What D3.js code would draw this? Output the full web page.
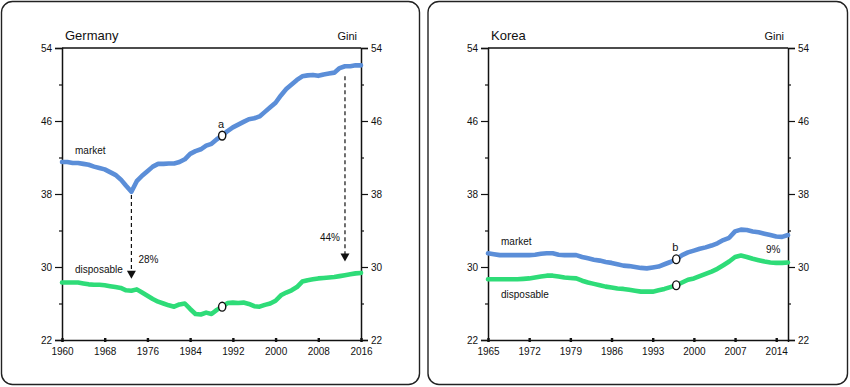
<!DOCTYPE html>
<html>
<head>
<meta charset="utf-8">
<script src="https://cdn.jsdelivr.net/npm/d3@7"></script>
<style>
html,body{margin:0;padding:0;background:#fff;}
svg{display:block;}
text{font-family:"Liberation Sans Narrow","Arial Narrow","Liberation Sans",Arial,sans-serif;fill:#111;}
</style>
</head>
<body>
<svg id="chart" width="850" height="387"></svg>
<script>
// ---------- DATA ----------
const yTicks = [22, 30, 38, 46, 54];
const yMinorTicks = [26, 34, 42, 50];

const deYears = d3.range(1960, 2017);
const deTicks = [1960, 1968, 1976, 1984, 1992, 2000, 2008, 2016];
const deMarket = [41.5,41.5,41.4,41.4,41.3,41.2,41.0,40.85,40.7,40.4,
  40.1,39.6,38.9,38.25,39.4,40.0,40.5,41.0,41.3,41.3,
  41.35,41.35,41.5,41.8,42.4,42.7,42.9,43.3,43.5,44.0,
  44.4,44.9,45.3,45.6,45.9,46.2,46.3,46.5,47.0,47.5,
  48.0,48.8,49.5,50.0,50.5,50.9,51.0,51.05,50.95,51.1,
  51.2,51.3,51.8,52.0,52.0,52.1,52.1];
const deDisposable = [28.3,28.3,28.3,28.3,28.2,28.1,28.05,28.05,28.0,27.9,
  27.8,27.7,27.45,27.4,27.55,27.2,26.85,26.5,26.2,26.0,
  25.8,25.65,25.9,26.0,25.4,24.85,24.8,25.0,24.85,25.3,
  25.65,26.05,26.1,26.05,26.1,25.95,25.7,25.65,25.85,26.0,
  26.3,26.9,27.2,27.45,27.8,28.4,28.55,28.65,28.75,28.8,
  28.85,28.9,29.0,29.1,29.2,29.3,29.35];

const krYears = d3.range(1965, 2017);
const krTicks = [1965, 1972, 1979, 1986, 1993, 2000, 2007, 2014];
const krMarket = [31.5,31.4,31.3,31.3,31.3,31.3,31.3,31.3,31.35,31.45,
  31.5,31.5,31.35,31.3,31.3,31.3,31.1,30.95,30.8,30.7,
  30.55,30.45,30.3,30.15,30.1,30.0,29.9,29.85,29.95,30.05,
  30.3,30.55,30.85,31.3,31.6,31.8,32.0,32.15,32.35,32.6,
  32.95,33.2,33.9,34.1,34.05,33.9,33.8,33.65,33.5,33.35,
  33.3,33.5];
const krDisposable = [28.65,28.65,28.65,28.65,28.65,28.65,28.7,28.75,28.85,28.95,
  29.05,29.05,28.95,28.85,28.8,28.75,28.5,28.3,28.15,28.0,
  27.85,27.75,27.65,27.6,27.5,27.4,27.3,27.3,27.3,27.45,
  27.6,27.8,28.0,28.3,28.6,28.75,29.0,29.25,29.5,29.8,
  30.2,30.6,31.1,31.25,31.1,30.9,30.75,30.6,30.5,30.45,
  30.45,30.5];

// annotations (data units)
const deMarker = {year: 1990, label: "a"};
const krMarker = {year: 1997, label: "b"};
const deArrows = [
  {year: 1973, from: 37.9, to: 28.7, label: "28%", side: "right", labelValue: 30.45},
  {year: 2013, from: 50.9, to: 30.6, label: "44%", side: "left", labelValue: 32.9}
];
const krNotes = [{year: 2013.5, value: 31.5, label: "9%"}];

// ---------- DRAW ----------
const svg = d3.select("#chart");
const blue = "#5B8ED8";
const green = "#2EDC78";

function panel(cfg) {
  const g = svg.append("g");
  g.append("rect")
    .attr("x", cfg.box[0]).attr("y", cfg.box[1])
    .attr("width", cfg.box[2]).attr("height", cfg.box[3])
    .attr("rx", 11).attr("ry", 11)
    .attr("fill", "none").attr("stroke", "#222").attr("stroke-width", 1.4);

  const x = d3.scaleLinear().domain(cfg.xDomain).range([cfg.left, cfg.right]);
  const y = d3.scaleLinear().domain([22, 54]).range([340, 48]);

  // top border line
  g.append("line").attr("x1", cfg.left).attr("x2", cfg.right)
    .attr("y1", y(54)).attr("y2", y(54))
    .attr("stroke", "#111").attr("stroke-width", 1.5);

  // left axis
  const la = g.append("g").attr("transform", `translate(${cfg.left},0)`)
    .call(d3.axisLeft(y).tickValues(yTicks).tickSize(7).tickPadding(3).tickFormat(d3.format("d")));
  const ra = g.append("g").attr("transform", `translate(${cfg.right},0)`)
    .call(d3.axisRight(y).tickValues(yTicks).tickSize(7).tickPadding(3).tickFormat(d3.format("d")));
  [la, ra].forEach(a => {
    a.select(".domain").attr("stroke", "#111").attr("stroke-width", 1.5);
    a.selectAll(".tick line").attr("stroke", "#111").attr("stroke-width", 1.2);
    a.selectAll(".tick text").style("font-size", "10px").attr("fill", "#111");
  });
  g.append("g").attr("transform", `translate(${cfg.left},0)`)
    .call(d3.axisLeft(y).tickValues(yMinorTicks).tickSize(3).tickFormat(""))
    .call(s => { s.select(".domain").remove(); s.selectAll("line").attr("stroke", "#111").attr("stroke-width", 1.2); });
  g.append("g").attr("transform", `translate(${cfg.right},0)`)
    .call(d3.axisRight(y).tickValues(yMinorTicks).tickSize(3).tickFormat(""))
    .call(s => { s.select(".domain").remove(); s.selectAll("line").attr("stroke", "#111").attr("stroke-width", 1.2); });

  // bottom axis
  const ba = g.append("g").attr("transform", `translate(0,${y(22)})`)
    .call(d3.axisBottom(x).tickValues(cfg.xTicks).tickSize(2).tickPadding(6).tickFormat(d3.format("d")));
  ba.select(".domain").attr("stroke", "#111").attr("stroke-width", 1.5);
  ba.selectAll(".tick line").attr("y1", -2).attr("y2", 2).attr("stroke", "#111").attr("stroke-width", 2.4);
  ba.selectAll(".tick text").style("font-size", "10px").attr("fill", "#111");

  // lines
  const line = d3.line().x(d => x(d[0])).y(d => y(d[1])).curve(d3.curveLinear);
  const mk = cfg.years.map((yr, i) => [yr, cfg.market[i]]);
  const dp = cfg.years.map((yr, i) => [yr, cfg.disposable[i]]);
  g.append("path").attr("d", line(mk)).attr("fill", "none").attr("stroke", blue)
    .attr("stroke-width", 4.6).attr("stroke-linejoin", "round").attr("stroke-linecap", "round");
  g.append("path").attr("d", line(dp)).attr("fill", "none").attr("stroke", green)
    .attr("stroke-width", 4.6).attr("stroke-linejoin", "round").attr("stroke-linecap", "round");

  // markers
  const mi = cfg.years.indexOf(cfg.marker.year);
  [cfg.market[mi], cfg.disposable[mi]].forEach(v => {
    g.append("ellipse").attr("cx", x(cfg.marker.year)).attr("cy", y(v))
      .attr("rx", 3.6).attr("ry", 4.4)
      .attr("fill", "#fff").attr("stroke", "#111").attr("stroke-width", 1.4);
  });
  g.append("text").attr("x", x(cfg.marker.year) - 1).attr("y", y(cfg.market[mi]) - 8)
    .attr("text-anchor", "middle").style("font-size", "11px").text(cfg.marker.label);

  // titles
  g.append("text").attr("x", cfg.left + 3).attr("y", 40).style("font-size", "13px").text(cfg.title);
  g.append("text").attr("x", cfg.right - 4).attr("y", 40).attr("text-anchor", "end")
    .style("font-size", "11px").text("Gini");

  // series labels
  g.append("text").attr("x", cfg.left + 13).attr("y", cfg.marketLabelY)
    .style("font-size", "10px").text("market");
  g.append("text").attr("x", cfg.left + 13).attr("y", cfg.dispLabelY)
    .style("font-size", "10px").text("disposable");

  // arrows
  (cfg.arrows || []).forEach(a => {
    const ax = x(a.year);
    g.append("line").attr("x1", ax).attr("x2", ax)
      .attr("y1", y(a.from)).attr("y2", y(a.to) - 7)
      .attr("stroke", "#111").attr("stroke-width", 1.2).attr("stroke-dasharray", "4,3");
    const ty = y(a.to);
    g.append("path").attr("d", `M${ax - 4.5},${ty - 8} L${ax + 4.5},${ty - 8} L${ax},${ty} Z`)
      .attr("fill", "#111");
    g.append("text")
      .attr("x", a.side === "right" ? ax + 7 : ax - 5)
      .attr("y", y(a.labelValue))
      .attr("text-anchor", a.side === "right" ? "start" : "end")
      .style("font-size", "10px").text(a.label);
  });
  (cfg.notes || []).forEach(n => {
    g.append("text").attr("x", x(n.year)).attr("y", y(n.value))
      .attr("text-anchor", "middle").style("font-size", "10px").text(n.label);
  });
}

panel({
  box: [1.5, 1.5, 418, 383],
  left: 62, right: 361,
  xDomain: [1960, 2016], xTicks: deTicks,
  years: deYears, market: deMarket, disposable: deDisposable,
  marker: deMarker, title: "Germany",
  marketLabelY: 154, dispLabelY: 273,
  arrows: deArrows
});

panel({
  box: [428, 1.5, 419.5, 383],
  left: 488, right: 788,
  xDomain: [1965, 2016], xTicks: krTicks,
  years: krYears, market: krMarket, disposable: krDisposable,
  marker: krMarker, title: "Korea",
  marketLabelY: 245, dispLabelY: 298,
  notes: krNotes
});
</script>
</body>
</html>
